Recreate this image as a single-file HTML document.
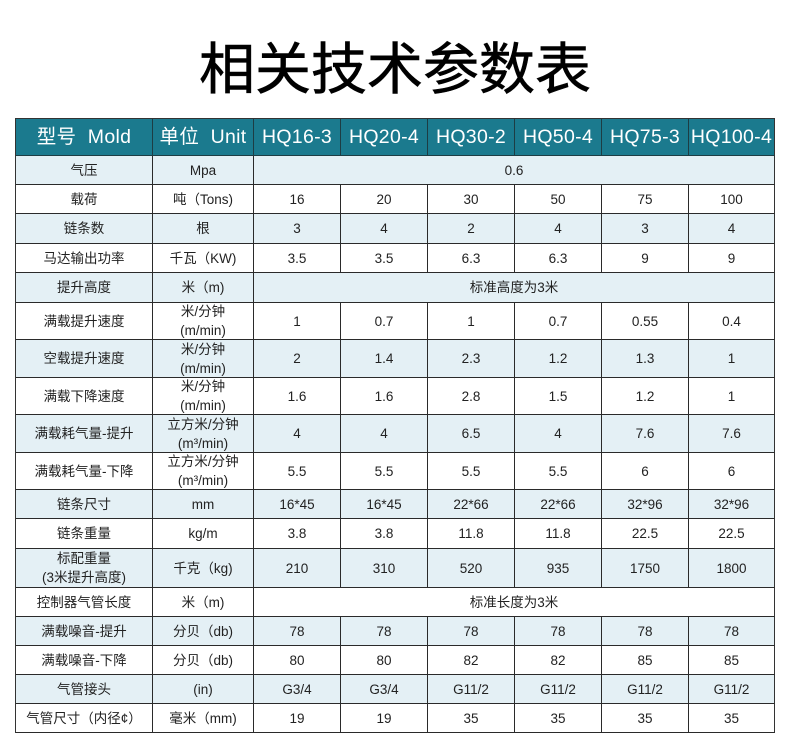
<!DOCTYPE html>
<html><head><meta charset="utf-8">
<style>
*{margin:0;padding:0;box-sizing:border-box}
html,body{width:790px;height:743px;background:#fff;overflow:hidden}
body{position:relative;font-family:"Liberation Sans","Noto Sans CJK SC",sans-serif;color:#222}
.title{position:absolute;left:0;top:30px;width:790px;text-align:center;font-family:"Noto Sans CJK SC",sans-serif;font-weight:400;-webkit-text-stroke:0.6px #000;font-size:56px;line-height:72px;color:#000;letter-spacing:0px}
.grid{position:absolute;left:15px;top:118px;display:grid;
grid-template-columns:137px 101px 87px 87px 87px 87px 87px 86px;
grid-template-rows:37px 29px 29px 30px 29px 30px 37px 38px 37px 38px 37px 29px 30px 39px 29px 29px 29px 29px 29px;
border-left:1.5px solid #333;border-top:1.5px solid #333}
.grid>div{border-right:1px solid #2a2a2a;border-bottom:1px solid #2a2a2a;display:flex;align-items:center;justify-content:center;text-align:center;font-size:13.5px;line-height:19px;font-family:"Liberation Sans","Noto Sans CJK SC",sans-serif}
.grid>div.h{background:#1b7a8e;color:#fff;font-size:19.5px;border-color:#1d3d44;font-family:"Liberation Sans","Noto Sans CJK SC",sans-serif;letter-spacing:0.3px}
.grid>div.b{background:#e4f0f5}
.grid>div.w{background:#fff}
.grid>div.m{grid-column:span 6}
.grid>div.l{border-right:1.5px solid #333}
</style></head><body>
<div class="title">相关技术参数表</div>
<div class="grid">
<div class="h">型号&nbsp;&nbsp;Mold</div><div class="h">单位&nbsp;&nbsp;Unit</div><div class="h">HQ16-3</div><div class="h">HQ20-4</div><div class="h">HQ30-2</div><div class="h">HQ50-4</div><div class="h">HQ75-3</div><div class="h l">HQ100-4</div>

<div class="b">气压</div><div class="b">Mpa</div><div class="b m l">0.6</div>

<div class="w">载荷</div><div class="w">吨（Tons)</div><div class="w">16</div><div class="w">20</div><div class="w">30</div><div class="w">50</div><div class="w">75</div><div class="w l">100</div>

<div class="b">链条数</div><div class="b">根</div><div class="b">3</div><div class="b">4</div><div class="b">2</div><div class="b">4</div><div class="b">3</div><div class="b l">4</div>

<div class="w">马达输出功率</div><div class="w">千瓦（KW)</div><div class="w">3.5</div><div class="w">3.5</div><div class="w">6.3</div><div class="w">6.3</div><div class="w">9</div><div class="w l">9</div>

<div class="b">提升高度</div><div class="b">米（m)</div><div class="b m l">标准高度为3米</div>

<div class="w">满载提升速度</div><div class="w">米/分钟<br>(m/min)</div><div class="w">1</div><div class="w">0.7</div><div class="w">1</div><div class="w">0.7</div><div class="w">0.55</div><div class="w l">0.4</div>

<div class="b">空载提升速度</div><div class="b">米/分钟<br>(m/min)</div><div class="b">2</div><div class="b">1.4</div><div class="b">2.3</div><div class="b">1.2</div><div class="b">1.3</div><div class="b l">1</div>

<div class="w">满载下降速度</div><div class="w">米/分钟<br>(m/min)</div><div class="w">1.6</div><div class="w">1.6</div><div class="w">2.8</div><div class="w">1.5</div><div class="w">1.2</div><div class="w l">1</div>

<div class="b">满载耗气量-提升</div><div class="b">立方米/分钟<br>(m³/min)</div><div class="b">4</div><div class="b">4</div><div class="b">6.5</div><div class="b">4</div><div class="b">7.6</div><div class="b l">7.6</div>

<div class="w">满载耗气量-下降</div><div class="w">立方米/分钟<br>(m³/min)</div><div class="w">5.5</div><div class="w">5.5</div><div class="w">5.5</div><div class="w">5.5</div><div class="w">6</div><div class="w l">6</div>

<div class="b">链条尺寸</div><div class="b">mm</div><div class="b">16*45</div><div class="b">16*45</div><div class="b">22*66</div><div class="b">22*66</div><div class="b">32*96</div><div class="b l">32*96</div>

<div class="w">链条重量</div><div class="w">kg/m</div><div class="w">3.8</div><div class="w">3.8</div><div class="w">11.8</div><div class="w">11.8</div><div class="w">22.5</div><div class="w l">22.5</div>

<div class="b">标配重量<br>(3米提升高度)</div><div class="b">千克（kg)</div><div class="b">210</div><div class="b">310</div><div class="b">520</div><div class="b">935</div><div class="b">1750</div><div class="b l">1800</div>

<div class="w">控制器气管长度</div><div class="w">米（m)</div><div class="w m l">标准长度为3米</div>

<div class="b">满载噪音-提升</div><div class="b">分贝（db)</div><div class="b">78</div><div class="b">78</div><div class="b">78</div><div class="b">78</div><div class="b">78</div><div class="b l">78</div>

<div class="w">满载噪音-下降</div><div class="w">分贝（db)</div><div class="w">80</div><div class="w">80</div><div class="w">82</div><div class="w">82</div><div class="w">85</div><div class="w l">85</div>

<div class="b">气管接头</div><div class="b">(in)</div><div class="b">G3/4</div><div class="b">G3/4</div><div class="b">G11/2</div><div class="b">G11/2</div><div class="b">G11/2</div><div class="b l">G11/2</div>

<div class="w">气管尺寸（内径¢）</div><div class="w">毫米（mm)</div><div class="w">19</div><div class="w">19</div><div class="w">35</div><div class="w">35</div><div class="w">35</div><div class="w l">35</div>
</div>
</body></html>
